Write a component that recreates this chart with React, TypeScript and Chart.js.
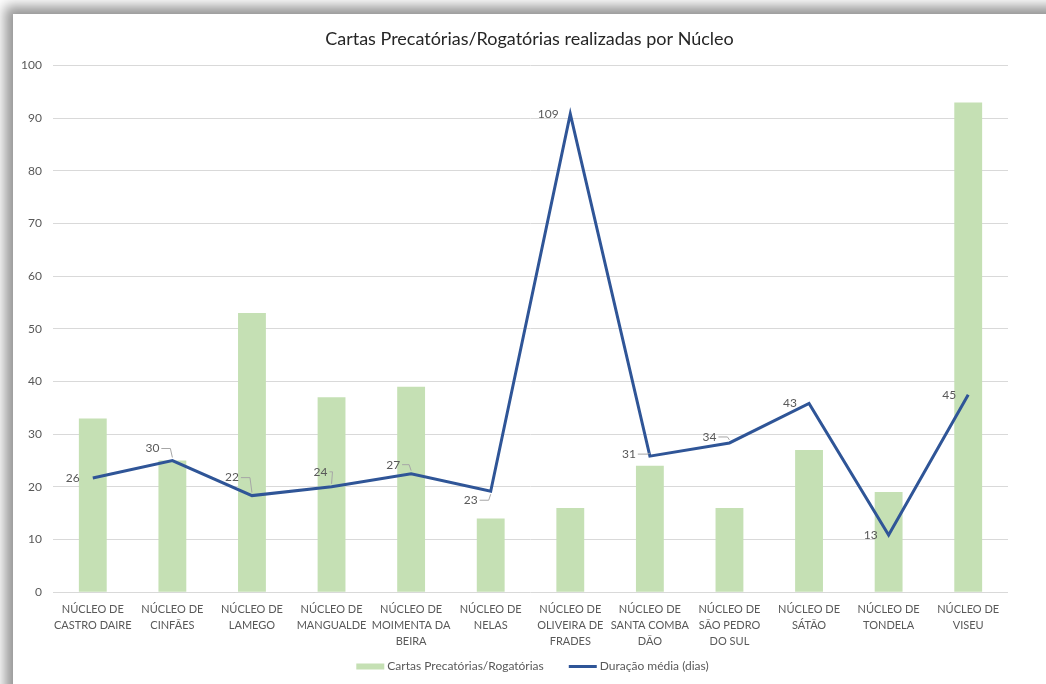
import React, { useEffect, useRef } from "react";
import { Chart, registerables } from "chart.js";

Chart.register(...registerables);

const categories: string[][] = [
  ["NÚCLEO DE", "CASTRO DAIRE"],
  ["NÚCLEO DE", "CINFÃES"],
  ["NÚCLEO DE", "LAMEGO"],
  ["NÚCLEO DE", "MANGUALDE"],
  ["NÚCLEO DE", "MOIMENTA DA", "BEIRA"],
  ["NÚCLEO DE", "NELAS"],
  ["NÚCLEO DE", "OLIVEIRA DE", "FRADES"],
  ["NÚCLEO DE", "SANTA COMBA", "DÃO"],
  ["NÚCLEO DE", "SÃO PEDRO", "DO SUL"],
  ["NÚCLEO DE", "SÁTÃO"],
  ["NÚCLEO DE", "TONDELA"],
  ["NÚCLEO DE", "VISEU"],
];

const cartas: number[] = [33, 25, 53, 37, 39, 14, 16, 24, 16, 27, 19, 93];
const duracao: number[] = [26, 30, 22, 24, 27, 23, 109, 31, 34, 43, 13, 45];

const TITLE = "Cartas Precatórias/Rogatórias realizadas por Núcleo";
const BAR_LABEL = "Cartas Precatórias/Rogatórias";
const LINE_LABEL = "Duração média (dias)";

// label placement (style only): offset of each line data label from its point
const labelOffsets: [number, number][] = [
  [-20, 0], [-20, -12], [-20, -18], [-11, -15], [-18, -9], [-20, 9],
  [-22, 0], [-21, -2], [-20, -6], [-19, 0], [-18, 0], [-19, 0],
];

const FONT = "Lato, 'Open Sans', sans-serif";
const TEXT = "#595959";
const BAR_COLOR = "#C5E0B4";
const LINE_COLOR = "#2F5597";

const lineLabelPlugin = {
  id: "lineLabels",
  afterDatasetsDraw(chart: any) {
    const meta = chart.getDatasetMeta(1);
    const ds = chart.data.datasets[1];
    const ctx = chart.ctx;
    ctx.save();
    ctx.font = `12px ${FONT}`;
    ctx.fillStyle = TEXT;
    ctx.textAlign = "center";
    ctx.textBaseline = "middle";
    meta.data.forEach((pt: any, i: number) => {
      const [dx, dy] = labelOffsets[i];
      const lx = pt.x + dx;
      const ly = pt.y + dy;
      const txt = String(ds.data[i]);
      ctx.fillText(txt, lx, ly);
      if (Math.abs(dy) > 1) {
        const w = ctx.measureText(txt).width;
        ctx.strokeStyle = "#a6a6a6";
        ctx.lineWidth = 1;
        ctx.beginPath();
        const sx = lx + w / 2 + 2;
        const ex = Math.max(sx + 3, pt.x - 2);
        ctx.moveTo(sx, ly);
        ctx.lineTo(ex, ly);
        ctx.lineTo(pt.x, pt.y + (dy < 0 ? -3 : 3));
        ctx.stroke();
      }
    });
    ctx.restore();
  },
};

// Excel-style legend drawn below the axis labels
const legendPlugin = {
  id: "excelLegend",
  afterDraw(chart: any) {
    const ctx = chart.ctx;
    ctx.save();
    ctx.font = `12px ${FONT}`;
    ctx.textBaseline = "middle";
    ctx.textAlign = "left";
    const sym = 28;
    const gap = 3;
    const itemGap = 25;
    const w1 = ctx.measureText(BAR_LABEL).width;
    const w2 = ctx.measureText(LINE_LABEL).width;
    const total = sym + gap + w1 + itemGap + sym + gap + w2;
    let x = chart.width / 2 + 3 - total / 2;
    const y = chart.height - 17.5;
    ctx.fillStyle = BAR_COLOR;
    ctx.fillRect(x, y - 3, sym, 6);
    x += sym + gap;
    ctx.fillStyle = TEXT;
    ctx.fillText(BAR_LABEL, x, y);
    x += w1 + itemGap;
    ctx.strokeStyle = LINE_COLOR;
    ctx.lineWidth = 3;
    ctx.beginPath();
    ctx.moveTo(x, y);
    ctx.lineTo(x + sym, y);
    ctx.stroke();
    x += sym + gap;
    ctx.fillText(LINE_LABEL, x, y);
    ctx.restore();
  },
};

export default function App() {
  const ref = useRef<HTMLCanvasElement | null>(null);

  useEffect(() => {
    if (!ref.current) return;
    const chart = new Chart(ref.current, {
      type: "bar",
      data: {
        labels: categories as any,
        datasets: [
          {
            type: "bar",
            label: BAR_LABEL,
            data: cartas,
            backgroundColor: BAR_COLOR,
            borderWidth: 0,
            barPercentage: 0.35,
            categoryPercentage: 1,
            yAxisID: "y",
            order: 2,
          },
          {
            type: "line",
            label: LINE_LABEL,
            data: duracao,
            borderColor: LINE_COLOR,
            backgroundColor: LINE_COLOR,
            borderWidth: 3,
            pointRadius: 0,
            tension: 0,
            yAxisID: "y2",
            order: 1,
          } as any,
        ],
      },
      options: {
        responsive: false,
        animation: false,
        maintainAspectRatio: false,
        layout: { padding: { top: 14, right: 0, bottom: 26, left: 0 } },
        plugins: {
          title: {
            display: true,
            text: TITLE,
            color: "#262626",
            font: { family: FONT, size: 18, weight: "normal" },
            padding: { top: 0, bottom: 16 },
          },
          legend: { display: false },
          tooltip: { enabled: false },
        },
        scales: {
          x: {
            grid: { display: false, drawTicks: false },
            border: { display: false },
            ticks: {
              color: TEXT,
              font: { family: FONT, size: 11, lineHeight: 1.45 },
              maxRotation: 0,
              autoSkip: false,
              padding: 9,
            },
          },
          y: {
            min: 0,
            max: 100,
            grid: { color: "#d9d9d9", drawTicks: false, lineWidth: 1 },
            border: { display: false },
            ticks: {
              stepSize: 10,
              color: TEXT,
              font: { family: FONT, size: 12 },
              padding: 11,
            },
            afterFit(scale: any) {
              scale.width = 40;
            },
          },
          y2: {
            display: true,
            min: 0,
            max: 120,
            position: "right",
            grid: { display: false, drawTicks: false },
            border: { display: false },
            ticks: { display: false },
            afterFit(scale: any) {
              scale.width = 38;
            },
          },
        },
      } as any,
      plugins: [lineLabelPlugin, legendPlugin],
    });
    return () => chart.destroy();
  }, []);

  return (
    <div
      style={{
        position: "fixed",
        left: 0,
        top: 0,
        width: 1046,
        height: 684,
        overflow: "hidden",
        background: "#ffffff",
      }}
    >
      <div
        style={{
          position: "absolute",
          left: 13,
          top: 14,
          width: 1050,
          height: 690,
          background: "#ffffff",
          boxShadow: "0 0 12px 8px rgba(0,0,0,0.42)",
        }}
      >
        <canvas ref={ref} width={1033} height={670} style={{ display: "block" }} />
      </div>
    </div>
  );
}
